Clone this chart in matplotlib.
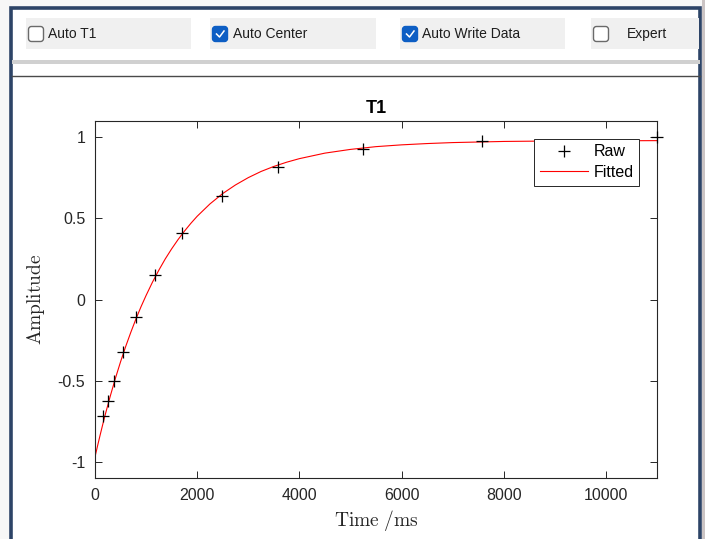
import matplotlib.pyplot as plt
from matplotlib.patches import Rectangle, FancyBboxPatch

# Raw data
time_raw = [150, 250, 375, 550, 800, 1175, 1710, 2490, 3590, 5250, 7580, 11000]
amp_raw = [-0.72, -0.624, -0.50, -0.326, -0.108, 0.152, 0.407, 0.637, 0.817, 0.929, 0.978, 1.0]

# Fitted curve
time_fit = [0, 50, 100, 150, 200, 300, 400, 500, 600, 700, 800, 900, 1000, 1125, 1250,
            1375, 1500, 1625, 1750, 1875, 2000, 2250, 2500, 2750, 3000, 3250, 3500, 3750,
            4000, 4500, 5000, 5500, 6000, 6500, 7000, 8000, 9000, 10000, 11000]
amp_fit = [-0.97, -0.902, -0.836, -0.772, -0.710, -0.594, -0.485, -0.384, -0.290, -0.203,
           -0.121, -0.045, 0.025, 0.107, 0.181, 0.250, 0.312, 0.369, 0.421, 0.469, 0.513,
           0.589, 0.653, 0.706, 0.751, 0.789, 0.820, 0.846, 0.868, 0.902, 0.925, 0.942,
           0.953, 0.961, 0.967, 0.974, 0.977, 0.978, 0.979]

checkboxes = ['Auto T1', 'Auto Center', 'Auto Write Data', 'Expert']
checked = [False, True, True, False]

W, H = 705, 539
fig = plt.figure(figsize=(W / 100, H / 100), dpi=100)
plt.rcParams['mathtext.fontset'] = 'cm'

# background layer in pixel coordinates for the app frame
bg = fig.add_axes([0, 0, 1, 1], zorder=0)
bg.set_xlim(0, W)
bg.set_ylim(H, 0)
bg.axis('off')

# soft shadow outside the panel
bg.add_patch(Rectangle((0, 0), W, H, color='#f7f7f7', lw=0))
bg.add_patch(Rectangle((702, 0), 3, H, color='#cbc4c4', lw=0))
# panel
bg.add_patch(Rectangle((11, 8), 689, H, facecolor='white', edgecolor='#2d4467', lw=2.6))

# checkbox row
box_x = [26, 210, 400, 591]
box_w = [165, 166, 165, 108]
text_dx = [22, 23, 22, 36]
for x, w, dx, label, on in zip(box_x, box_w, text_dx, checkboxes, checked):
    bg.add_patch(Rectangle((x, 18), w, 31, color='#f0f0f0', lw=0))
    if on:
        bg.add_patch(FancyBboxPatch((x + 2.5, 26.5), 15, 15, boxstyle='round,pad=0,rounding_size=3',
                                    facecolor='#0d5ec4', edgecolor='#0d5ec4', lw=1))
        bg.plot([x + 6.5, x + 9.5, x + 14], [34, 37, 31], color='white', lw=1.1)
    else:
        bg.add_patch(FancyBboxPatch((x + 2.5, 26.5), 15, 15, boxstyle='round,pad=0,rounding_size=3',
                                    facecolor='white', edgecolor='#6a6a6a', lw=1))
    bg.text(x + dx, 34, label, fontsize=10, family='Liberation Sans', color='#1e1e1e', va='center')

# separator lines
bg.add_patch(Rectangle((12, 60), 688, 3.5, color='#d0d0d0', lw=0))
bg.plot([12, 700], [75.5, 75.5], color='#4a4a4a', lw=1)

# main plot
ax = fig.add_axes([95 / W, 1 - 478 / H, 562 / W, 357 / H], zorder=1)
ax.plot(time_fit, amp_fit, color='red', lw=0.8, label='Fitted', zorder=2)
ax.plot(time_raw, amp_raw, linestyle='none', marker='+', color='black',
        markersize=9, markeredgewidth=0.9, label='Raw', zorder=3, clip_on=False)

ax.set_xlim(0, 11000)
ax.set_ylim(-1.1, 1.1)
ax.set_xticks([0, 2000, 4000, 6000, 8000, 10000])
ax.set_yticks([-1, -0.5, 0, 0.5, 1])
ax.set_yticklabels(['-1', '-0.5', '0', '0.5', '1'])
ax.tick_params(direction='in', top=True, right=True, length=5, width=0.7,
               colors='#262626', labelsize=11.5, pad=7)
for lab in ax.get_xticklabels() + ax.get_yticklabels():
    lab.set_family('Liberation Sans')
for s in ax.spines.values():
    s.set_color('#262626')
    s.set_linewidth(0.8)

ax.set_title('T1', fontsize=13, fontweight='bold', family='Liberation Sans', color='black', pad=6)
ax.set_xlabel(r'$\mathrm{Time\ /ms}$', fontsize=14, color='#262626', labelpad=4)
ax.set_ylabel(r'$\mathrm{Amplitude}$', fontsize=14, color='#262626', labelpad=8)

handles, labels = ax.get_legend_handles_labels()
leg = ax.legend(handles[::-1], labels[::-1], loc='upper right', bbox_to_anchor=(0.968, 0.95),
                borderaxespad=0, fancybox=False, edgecolor='#262626', framealpha=1,
                prop={'family': 'Liberation Sans', 'size': 11.5}, handlelength=3.0,
                handletextpad=0.35, borderpad=0.35, labelspacing=0.35)
leg.get_frame().set_linewidth(0.7)

fig.savefig('out.png', dpi=100)
